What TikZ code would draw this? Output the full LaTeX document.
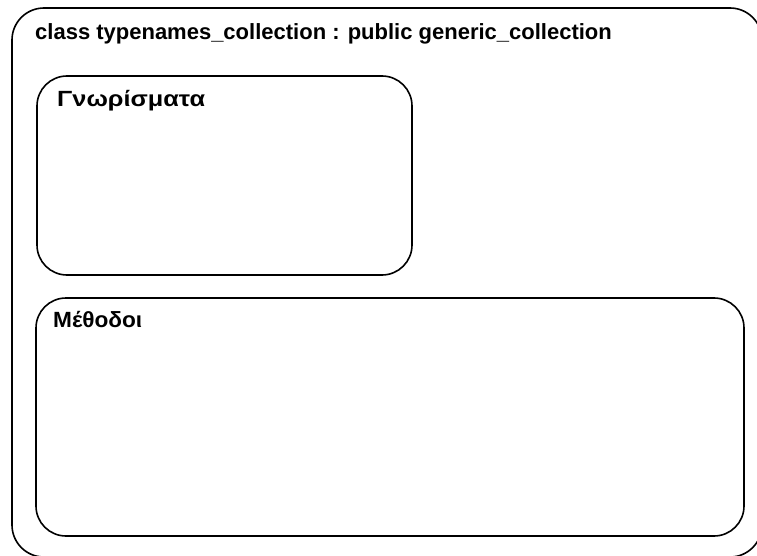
\documentclass[tikz,border=0pt]{standalone}
\usepackage{fontspec}
\setmainfont{Liberation Sans}
\begin{document}
\begin{tikzpicture}[x=1pt,y=1pt,
  frame/.style={draw=black, line width=1.6pt, rounded corners=32pt},
  label/.style={anchor=base west, inner sep=0pt, font=\bfseries\fontsize{22}{26}\selectfont}]
\useasboundingbox (0,0) rectangle (757,555);
\clip (0,0) rectangle (757,555);
% class frame, running past the right and bottom edges
\draw[frame] (12,547) rectangle (762,-2);
% attribute and method compartments
\draw[frame, rounded corners=30pt] (37,479) rectangle (412,280);
\draw[frame, rounded corners=30pt] (36,257) rectangle (744,19);
% headings
\node[label] (title) at (35,515) {class typenames\_collection : public generic\_collection};
\node[label, xscale=1.15] (attrs) at (57,448) {Γνωρίσματα};
\node[label, xscale=1.03] (meths) at (53,228) {Μέθοδοι};
\end{tikzpicture}
\end{document}
